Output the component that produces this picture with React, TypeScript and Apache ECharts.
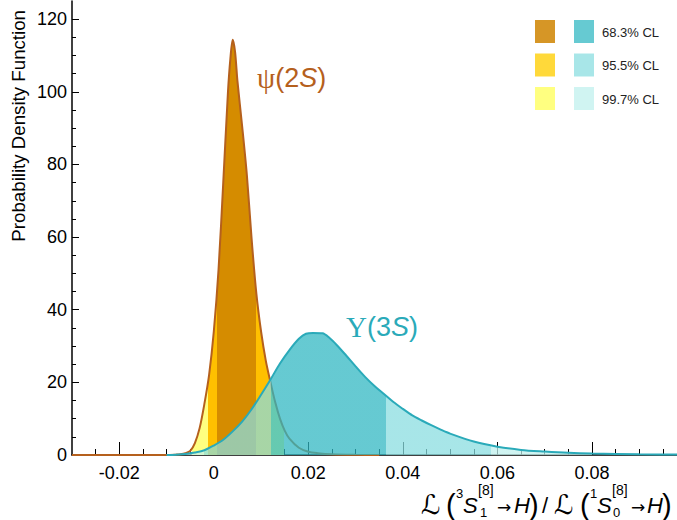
import React, { useEffect, useRef } from "react";
import * as echarts from "echarts";

// ---------- data ----------
const psiData: [number, number][] = [
  [-0.03, 0], [-0.01, 0], [-0.008, 0.1], [-0.007, 0.2], [-0.006, 0.5], [-0.005, 1.1],
  [-0.004, 3.3], [-0.003, 7.4], [-0.002, 14], [-0.001, 22], [0, 34], [0.001, 51],
  [0.002, 75], [0.003, 100], [0.0035, 109], [0.004, 114.3], [0.0045, 111], [0.005, 103],
  [0.006, 90.5], [0.007, 77], [0.008, 59.5], [0.009, 44.5], [0.01, 34], [0.011, 26],
  [0.012, 20], [0.013, 14.5], [0.014, 10], [0.015, 6.7], [0.016, 4.5], [0.018, 2],
  [0.02, 0.9], [0.022, 0.5], [0.025, 0.2], [0.03, 0.05], [0.035, 0],
];

const upsData: [number, number][] = [
  [-0.01, 0], [-0.008, 0.1], [-0.006, 0.3], [-0.004, 0.7], [-0.002, 1.3], [0, 2.6],
  [0.002, 4.2], [0.004, 6.5], [0.006, 9.2], [0.008, 12.6], [0.01, 16.6], [0.012, 20.8],
  [0.014, 25.2], [0.016, 28.9], [0.018, 32], [0.0195, 33.4], [0.021, 33.6], [0.023, 33.5],
  [0.0245, 32.2], [0.026, 30.3], [0.028, 27.4], [0.03, 24.4], [0.032, 21.5], [0.034, 19],
  [0.036, 16.8], [0.038, 14.6], [0.04, 12.7], [0.042, 10.9], [0.044, 9.5], [0.046, 8.2],
  [0.048, 7], [0.05, 5.9], [0.055, 3.7], [0.06, 2.3], [0.065, 1.4], [0.07, 0.95],
  [0.075, 0.6], [0.08, 0.4], [0.09, 0.2], [0.1, 0.1],
];

// CL intervals: [99.7%, 95.5%, 68.3%]
const psiBands: [number, number][] = [[-0.0047, 0.0148], [-0.0013, 0.0121], [0.0006, 0.0089]];
const upsBands: [number, number][] = [[-0.006, 0.08], [-0.002, 0.0586], [0.0121, 0.0364]];

const clLabels = ["68.3% CL", "95.5% CL", "99.7% CL"];

const xTickLabels = [-0.02, 0, 0.02, 0.04, 0.06, 0.08];
const xMinorTicks = [
  -0.025, -0.02, -0.015, -0.01, -0.005, 0, 0.005, 0.01, 0.015, 0.02, 0.025, 0.03, 0.035,
  0.04, 0.045, 0.05, 0.055, 0.06, 0.065, 0.07, 0.075, 0.08, 0.085, 0.09, 0.095,
];
const yTickLabels = [0, 20, 40, 60, 80, 100, 120];
const yMinorTicks = [
  0, 5, 10, 15, 20, 25, 30, 35, 40, 45, 50, 55, 60, 65, 70, 75, 80, 85, 90, 95, 100, 105,
  110, 115, 120,
];

// ---------- styles ----------
const FONT = "'Liberation Sans', Arial, Helvetica, sans-serif";
const DJ = "'DejaVu Sans', sans-serif";
const psiFill = ["#FFFF80", "#FFC000", "#D58C00"]; // 99.7, 95.5, 68.3
const upsFill = ["rgb(192,240,237)", "rgb(137,221,224)", "rgb(48,183,194)"];
const psiLegend = ["#D69626", "#FFD93A", "#FFFF80"]; // 68.3, 95.5, 99.7
const upsLegend = ["#66CAD2", "#A8E6E8", "#D0F4F2"];
const psiLine = "#B5601D";
const upsLine = "#2AAAB9";
const CLEAR = "rgba(255,255,255,0)";

function bandPieces(bands: [number, number][], colors: string[]) {
  const [o, m, i] = bands;
  return [
    { gte: o[0], lt: m[0], color: colors[0] },
    { gte: m[0], lt: i[0], color: colors[1] },
    { gte: i[0], lte: i[1], color: colors[2] },
    { gt: i[1], lte: m[1], color: colors[1] },
    { gt: m[1], lte: o[1], color: colors[0] },
  ];
}

const fmt = (v: number) => (Math.abs(v) < 1e-12 ? "0" : String(+v.toFixed(2)));

// x-axis title pieces: [text, x, y, size, italic, family]
const titleTokens: [string, number, number, number, boolean, string][] = [
  ["ℒ", 421, 504, 27, false, DJ],
  ["(", 446, 505, 29, false, FONT],
  ["3", 456, 493, 13, false, FONT],
  ["S", 463, 505, 22, true, FONT],
  ["[8]", 478, 490, 14, false, FONT],
  ["1", 480, 512, 13, false, FONT],
  ["→", 497, 507, 17, false, DJ],
  ["H", 514, 505, 22, true, FONT],
  [")", 529, 505, 29, false, FONT],
  ["/", 542, 505, 22, false, FONT],
  ["ℒ", 554, 504, 27, false, DJ],
  ["(", 580, 505, 29, false, FONT],
  ["1", 590, 493, 13, false, FONT],
  ["S", 597, 505, 22, true, FONT],
  ["[8]", 612, 490, 14, false, FONT],
  ["0", 613, 512, 13, false, FONT],
  ["→", 631, 507, 17, false, DJ],
  ["H", 647, 505, 22, true, FONT],
  [")", 662, 505, 29, false, FONT],
];

function curveLabel(head: string, tail: string, x: number, y: number, color: string) {
  return {
    type: "text",
    x,
    y,
    style: {
      text: `{g|${head}}{n|(${tail}}{i|S}{n|)}`,
      verticalAlign: "middle",
      align: "left",
      rich: {
        g: { fontFamily: "'Liberation Serif', serif", fontSize: 29, fill: color },
        n: { fontFamily: FONT, fontSize: 27, fill: color },
        i: { fontFamily: FONT, fontSize: 27, fontStyle: "italic", fill: color },
      },
    },
  };
}

export default function App() {
  const ref = useRef<HTMLDivElement>(null);

  useEffect(() => {
    if (!ref.current) return;
    const chart = echarts.init(ref.current, null, { renderer: "svg" });

    const graphics: any[] = [];
    graphics.push({
      type: "text",
      x: 18,
      y: 10,
      rotation: Math.PI / 2,
      style: {
        text: "Probability Density Function",
        align: "right",
        verticalAlign: "middle",
        fontSize: 18.7,
        fontFamily: FONT,
        fill: "#000",
      },
    });
    titleTokens.forEach(([t, x, y, s, it, fam]) => {
      graphics.push({
        type: "text",
        x,
        y,
        style: {
          text: t,
          align: "left",
          verticalAlign: "middle",
          fontSize: s,
          fontStyle: it ? "italic" : "normal",
          fontFamily: fam,
          fill: "#000",
        },
      });
    });
    graphics.push(curveLabel("ψ", "2", 257, 78, psiLine));
    graphics.push(curveLabel("Υ", "3", 346, 327, upsLine));
    clLabels.forEach((lab, k) => {
      const top = 20 + k * 33.5;
      graphics.push({
        type: "rect",
        shape: { x: 535, y: top, width: 20, height: 23 },
        style: { fill: psiLegend[k] },
      });
      graphics.push({
        type: "rect",
        shape: { x: 574, y: top, width: 20, height: 23 },
        style: { fill: upsLegend[k] },
      });
      graphics.push({
        type: "text",
        x: 602,
        y: top + 12,
        style: {
          text: lab,
          align: "left",
          verticalAlign: "middle",
          fontSize: 13,
          fontFamily: FONT,
          fill: "#222",
        },
      });
    });

    const axisLineStyle = { color: "#000", width: 1.5 };
    const tickStyle = { color: "#000", width: 1 };

    chart.setOption({
      animation: false,
      grid: { left: 72, right: 0, top: 1, bottom: 65, containLabel: false },
      xAxis: [
        {
          type: "value",
          min: -0.03,
          max: 0.098,
          position: "bottom",
          axisLine: { show: true, onZero: false, lineStyle: axisLineStyle },
          axisTick: { show: true, inside: true, length: 6, customValues: xMinorTicks, lineStyle: tickStyle },
          axisLabel: {
            show: true,
            customValues: xTickLabels,
            formatter: fmt,
            fontSize: 18,
            fontFamily: FONT,
            color: "#000",
            margin: 9,
          },
          splitLine: { show: false },
        },
        {
          type: "value",
          min: -0.03,
          max: 0.098,
          position: "bottom",
          axisLine: { show: false, onZero: false },
          axisTick: { show: true, inside: true, length: 13, customValues: xTickLabels, lineStyle: tickStyle },
          axisLabel: { show: false },
          splitLine: { show: false },
        },
      ],
      yAxis: [
        {
          type: "value",
          min: 0,
          max: 125,
          position: "left",
          axisLine: { show: true, onZero: false, lineStyle: axisLineStyle },
          axisTick: { show: true, inside: true, length: 4, customValues: yMinorTicks, lineStyle: tickStyle },
          axisLabel: {
            show: true,
            customValues: yTickLabels,
            fontSize: 18,
            fontFamily: FONT,
            color: "#000",
            margin: 5,
          },
          splitLine: { show: false },
        },
        {
          type: "value",
          min: 0,
          max: 125,
          position: "left",
          axisLine: { show: false, onZero: false },
          axisTick: { show: true, inside: true, length: 7, customValues: yTickLabels, lineStyle: tickStyle },
          axisLabel: { show: false },
          splitLine: { show: false },
        },
      ],
      visualMap: [
        {
          type: "piecewise",
          show: false,
          dimension: 0,
          seriesIndex: 0,
          pieces: bandPieces(psiBands, psiFill),
          outOfRange: { color: CLEAR },
        },
        {
          type: "piecewise",
          show: false,
          dimension: 0,
          seriesIndex: 1,
          pieces: bandPieces(upsBands, upsFill),
          outOfRange: { color: CLEAR },
        },
      ],
      series: [
        {
          name: "ψ(2S)",
          type: "line",
          xAxisIndex: 0,
          yAxisIndex: 0,
          data: psiData,
          smooth: 0.3,
          showSymbol: false,
          lineStyle: { color: psiLine, width: 2 },
          areaStyle: { opacity: 1 },
          z: 2,
        },
        {
          name: "Υ(3S)",
          type: "line",
          xAxisIndex: 0,
          yAxisIndex: 0,
          data: upsData,
          smooth: 0.3,
          showSymbol: false,
          lineStyle: { color: upsLine, width: 2 },
          areaStyle: { opacity: 0.74 },
          z: 3,
        },
      ],
      graphic: graphics,
    });

    return () => chart.dispose();
  }, []);

  return (
    <div
      ref={ref}
      style={{ position: "fixed", left: 0, top: 0, width: 677, height: 520, background: "#fff" }}
    />
  );
}
